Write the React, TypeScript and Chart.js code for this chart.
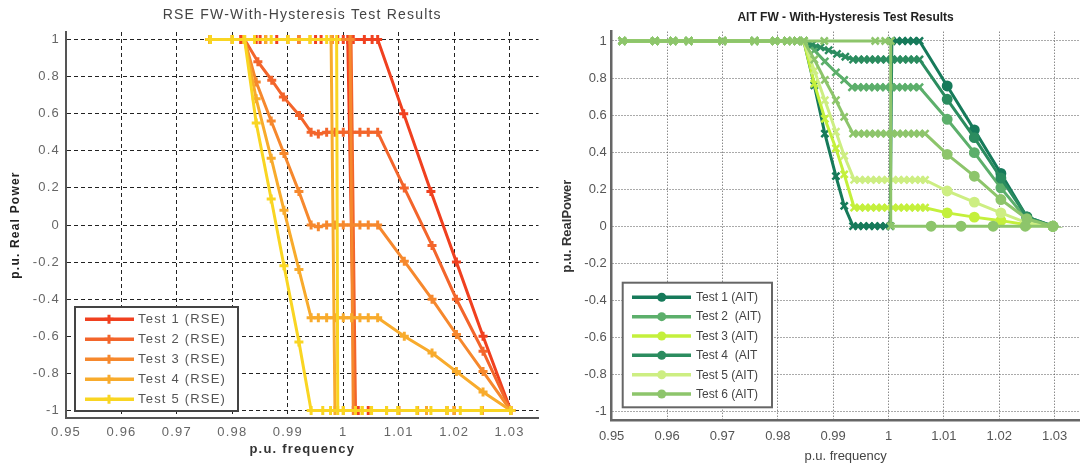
import React, { useEffect, useRef } from "react";
import { Chart, registerables } from "chart.js";

Chart.register(...registerables);

const FONT = "'Liberation Sans', Arial, Helvetica, sans-serif";

// ---------- shared axis ticks ----------
const xTickValues = [0.95, 0.96, 0.97, 0.98, 0.99, 1.0, 1.01, 1.02, 1.03];
const xTickLabels = ["0.95", "0.96", "0.97", "0.98", "0.99", "1", "1.01", "1.02", "1.03"];
const yTickValues = [-1, -0.8, -0.6, -0.4, -0.2, 0, 0.2, 0.4, 0.6, 0.8, 1];
const yTickLabels = ["-1", "-0.8", "-0.6", "-0.4", "-0.2", "0", "0.2", "0.4", "0.6", "0.8", "1"];

// ---------- RSE chart data ----------
const rseTitle = "RSE FW-With-Hysteresis Test Results";
const rseLabels = ["Test 1 (RSE)", "Test 2 (RSE)", "Test 3 (RSE)", "Test 4 (RSE)", "Test 5 (RSE)"];
const rseColors = ["#f0401f", "#f3652b", "#f6882d", "#f8ab2c", "#f9d522"];

const rseTest1Freq = [0.976, 0.9815, 0.9843, 0.988, 0.992, 0.996, 1.0, 1.0018, 1.0038, 1.0052, 1.0062, 1.0109, 1.0158, 1.0204, 1.0252, 1.0302, 1.025, 1.0187, 1.0134, 1.0078, 1.0045, 1.0027, 1.0021, 1.0008, 0.999, 0.995, 0.99, 0.985, 0.98, 0.976];
const rseTest1Power = [1, 1, 1, 1, 1, 1, 1, 1, 1, 1, 1, 0.6, 0.18, -0.2, -0.6, -1, -1, -1, -1, -1, -1, -1, -1, 1, 1, 1, 1, 1, 1, 1];

const rseTest2Freq = [0.976, 0.98, 0.9822, 0.9846, 0.9871, 0.9892, 0.9921, 0.9942, 0.9955, 0.997, 0.9985, 1.0, 1.0015, 1.003, 1.0045, 1.0062, 1.011, 1.016, 1.0204, 1.0252, 1.0302, 1.025, 1.02, 1.015, 1.01, 1.005, 1.0022, 1.0014, 0.998, 0.992, 0.986, 0.98, 0.976];
const rseTest2Power = [1, 1, 1, 0.88, 0.78, 0.69, 0.59, 0.5, 0.49, 0.5, 0.5, 0.5, 0.5, 0.5, 0.5, 0.5, 0.2, -0.11, -0.4, -0.68, -1, -1, -1, -1, -1, -1, -1, 1, 1, 1, 1, 1, 1];

const rseTest3Freq = [0.976, 0.98, 0.9822, 0.9843, 0.987, 0.9893, 0.992, 0.9942, 0.9955, 0.997, 0.9985, 1.0, 1.0015, 1.003, 1.0045, 1.0062, 1.011, 1.016, 1.0204, 1.0252, 1.0302, 1.025, 1.02, 1.015, 1.01, 1.005, 1.0018, 1.0012, 0.998, 0.992, 0.986, 0.98, 0.976];
const rseTest3Power = [1, 1, 1, 0.77, 0.56, 0.385, 0.18, 0, -0.01, 0, 0, 0, 0, 0, 0, 0, -0.195, -0.4, -0.59, -0.79, -1, -1, -1, -1, -1, -1, -1, 1, 1, 1, 1, 1, 1];

const rseTest4Freq = [0.976, 0.98, 0.9822, 0.9843, 0.987, 0.9893, 0.992, 0.9942, 0.9955, 0.997, 0.9985, 1.0, 1.0015, 1.003, 1.0045, 1.0062, 1.011, 1.016, 1.0204, 1.0252, 1.0302, 1.025, 1.02, 1.015, 1.01, 1.005, 1.0, 0.9985, 0.9978, 0.994, 0.99, 0.986, 0.982, 0.976];
const rseTest4Power = [1, 1, 1, 0.68, 0.36, 0.08, -0.24, -0.5, -0.5, -0.5, -0.5, -0.5, -0.5, -0.5, -0.5, -0.5, -0.6, -0.69, -0.79, -0.9, -1, -1, -1, -1, -1, -1, -1, -1, 1, 1, 1, 1, 1, 1];

const rseTest5Freq = [0.976, 0.98, 0.9822, 0.9843, 0.987, 0.9893, 0.992, 0.9942, 0.9963, 0.9977, 1.0, 1.0022, 1.0034, 1.0051, 1.0078, 1.0098, 1.0133, 1.0158, 1.0187, 1.0211, 1.0249, 1.0302, 1.0249, 1.0187, 1.0133, 1.0078, 1.0034, 0.999, 0.9988, 0.997, 0.994, 0.99, 0.987, 0.984, 0.98, 0.976];
const rseTest5Power = [1, 1, 1, 0.55, 0.14, -0.22, -0.63, -1, -1, -1, -1, -1, -1, -1, -1, -1, -1, -1, -1, -1, -1, -1, -1, -1, -1, -1, -1, -1, 1, 1, 1, 1, 1, 1, 1, 1];

const rseFreqs = [rseTest1Freq, rseTest2Freq, rseTest3Freq, rseTest4Freq, rseTest5Freq];
const rsePowers = [rseTest1Power, rseTest2Power, rseTest3Power, rseTest4Power, rseTest5Power];

// ---------- AIT chart data ----------
const aitTitle = "AIT FW - With-Hysteresis Test Results";
const aitLabels = ["Test 1 (AIT)", "Test 2  (AIT)", "Test 3 (AIT)", "Test 4  (AIT", "Test 5 (AIT)", "Test 6 (AIT)"];
const aitColors = ["#167a5a", "#5caf6b", "#c4f03c", "#2b8c5f", "#cdee82", "#8dc56b"];

const aitTest1Freq = [0.9519, 0.9578, 0.9611, 0.9639, 0.97, 0.9758, 0.9795, 0.9817, 0.9835, 0.9847, 0.9866, 0.9885, 0.9905, 0.992, 0.9936, 0.9945, 0.9955, 0.9965, 0.9975, 0.9985, 0.9995, 1.0003, 1.0006, 1.0015, 1.0025, 1.0035, 1.0045, 1.0056, 1.0106, 1.0155, 1.0203, 1.025, 1.0297];
const aitTest1Power = [1, 1, 1, 1, 1, 1, 1, 1, 1, 1, 0.76, 0.5, 0.27, 0.11, 0, 0, 0, 0, 0, 0, 0, 0, 1, 1, 1, 1, 1, 1, 0.757, 0.52, 0.285, 0.05, 0];

const aitTest2Freq = [0.9519, 0.9578, 0.9611, 0.9639, 0.97, 0.9758, 0.9795, 0.9817, 0.9835, 0.9847, 0.9866, 0.9885, 0.9905, 0.992, 0.9934, 0.9945, 0.9955, 0.9965, 0.9975, 0.9985, 0.9995, 1.0005, 1.0015, 1.0025, 1.0035, 1.0045, 1.0056, 1.0106, 1.0155, 1.0203, 1.025, 1.0297];
const aitTest2Power = [1, 1, 1, 1, 1, 1, 1, 1, 1, 1, 0.95, 0.89, 0.83, 0.79, 0.75, 0.75, 0.75, 0.75, 0.75, 0.75, 0.75, 0.75, 0.75, 0.75, 0.75, 0.75, 0.75, 0.577, 0.397, 0.207, 0.036, 0];

const aitTest3Freq = [0.9519, 0.9578, 0.9611, 0.9639, 0.97, 0.9758, 0.9795, 0.9817, 0.9835, 0.9847, 0.9866, 0.9885, 0.9905, 0.992, 0.9938, 0.9948, 0.9958, 0.9968, 0.9978, 0.9988, 0.9998, 1.0008, 1.0018, 1.0028, 1.0038, 1.0048, 1.0058, 1.0066, 1.0106, 1.0155, 1.0203, 1.025, 1.0297];
const aitTest3Power = [1, 1, 1, 1, 1, 1, 1, 1, 1, 1, 0.77, 0.58, 0.42, 0.28, 0.1, 0.1, 0.1, 0.1, 0.1, 0.1, 0.1, 0.1, 0.1, 0.1, 0.1, 0.1, 0.1, 0.1, 0.072, 0.049, 0.03, 0.008, 0];

const aitTest4Freq = [0.9519, 0.9578, 0.9611, 0.9639, 0.97, 0.9758, 0.9795, 0.9817, 0.9835, 0.9847, 0.9862, 0.9877, 0.9892, 0.9907, 0.9922, 0.9936, 0.9946, 0.9956, 0.9966, 0.9976, 0.9986, 0.9996, 1.0006, 1.0016, 1.0026, 1.0036, 1.0046, 1.0056, 1.0106, 1.0155, 1.0203, 1.025, 1.0297];
const aitTest4Power = [1, 1, 1, 1, 1, 1, 1, 1, 1, 1, 0.98, 0.965, 0.95, 0.93, 0.915, 0.9, 0.9, 0.9, 0.9, 0.9, 0.9, 0.9, 0.9, 0.9, 0.9, 0.9, 0.9, 0.9, 0.685, 0.478, 0.26, 0.05, 0];

const aitTest5Freq = [0.9519, 0.9578, 0.9611, 0.9639, 0.97, 0.9758, 0.9795, 0.9817, 0.9835, 0.9847, 0.9866, 0.9885, 0.9905, 0.992, 0.9938, 0.9948, 0.9958, 0.9968, 0.9978, 0.9988, 0.9998, 1.0008, 1.0018, 1.0028, 1.0038, 1.0048, 1.0058, 1.0066, 1.0106, 1.0155, 1.0203, 1.025, 1.0297];
const aitTest5Power = [1, 1, 1, 1, 1, 1, 1, 1, 1, 1, 0.84, 0.68, 0.51, 0.38, 0.25, 0.25, 0.25, 0.25, 0.25, 0.25, 0.25, 0.25, 0.25, 0.25, 0.25, 0.25, 0.25, 0.25, 0.19, 0.13, 0.072, 0.018, 0];

const aitTest6Freq = [0.9519, 0.9578, 0.9611, 0.9639, 0.97, 0.9758, 0.9795, 0.9817, 0.9835, 0.9847, 0.9866, 0.9885, 0.9905, 0.992, 0.9936, 0.9946, 0.9956, 0.9966, 0.9976, 0.9986, 0.9996, 1.0006, 1.0016, 1.0026, 1.0036, 1.0046, 1.0056, 1.0066, 1.0106, 1.0155, 1.0203, 1.025, 1.0297, 1.0247, 1.0189, 1.0131, 1.0077, 1.0004, 1.0004, 0.9994, 0.9976, 0.9884, 0.9835, 0.9817, 0.9795, 0.9758, 0.97, 0.9639, 0.9611, 0.9578, 0.9519];
const aitTest6Power = [1, 1, 1, 1, 1, 1, 1, 1, 1, 1, 0.9, 0.79, 0.68, 0.59, 0.5, 0.5, 0.5, 0.5, 0.5, 0.5, 0.5, 0.5, 0.5, 0.5, 0.5, 0.5, 0.5, 0.5, 0.388, 0.27, 0.144, 0.04, 0, 0, 0, 0, 0, 0, 1, 1, 1, 1, 1, 1, 1, 1, 1, 1, 1, 1, 1];

const aitFreqs = [aitTest1Freq, aitTest2Freq, aitTest3Freq, aitTest4Freq, aitTest5Freq, aitTest6Freq];
const aitPowers = [aitTest1Power, aitTest2Power, aitTest3Power, aitTest4Power, aitTest5Power, aitTest6Power];

// ---------- helpers ----------
type LegendCfg = {
  x: number; y: number; w: number; h: number;
  firstRow: number; rowGap: number;
  lineX0: number; lineX1: number; markerX: number; textX: number;
  font: string; textColor: string; borderColor: string; borderWidth: number;
  marker: "cross" | "circle";
};

function boxLegend(cfg: LegendCfg) {
  return {
    id: "boxLegend",
    afterDraw(chart: any) {
      const ctx = chart.ctx as CanvasRenderingContext2D;
      ctx.save();
      ctx.fillStyle = "#ffffff";
      ctx.fillRect(cfg.x, cfg.y, cfg.w, cfg.h);
      ctx.lineWidth = cfg.borderWidth;
      ctx.strokeStyle = cfg.borderColor;
      ctx.strokeRect(cfg.x, cfg.y, cfg.w, cfg.h);
      chart.data.datasets.forEach((ds: any, i: number) => {
        const y = cfg.firstRow + i * cfg.rowGap;
        const col = ds.borderColor as string;
        ctx.strokeStyle = col;
        ctx.lineWidth = 3.5;
        ctx.beginPath();
        ctx.moveTo(cfg.lineX0, y);
        ctx.lineTo(cfg.lineX1, y);
        ctx.stroke();
        if (cfg.marker === "circle") {
          ctx.fillStyle = col;
          ctx.beginPath();
          ctx.arc(cfg.markerX, y, 4.5, 0, Math.PI * 2);
          ctx.fill();
        } else {
          ctx.lineWidth = 3;
          ctx.beginPath();
          ctx.moveTo(cfg.markerX - 4.5, y);
          ctx.lineTo(cfg.markerX + 4.5, y);
          ctx.moveTo(cfg.markerX, y - 4.5);
          ctx.lineTo(cfg.markerX, y + 4.5);
          ctx.stroke();
        }
        ctx.fillStyle = cfg.textColor;
        ctx.font = cfg.font;
        ctx.textAlign = "left";
        ctx.textBaseline = "middle";
        ctx.fillText(ds.label, cfg.textX, y + 0.5);
      });
      ctx.restore();
    },
  };
}

const spacing = (px: string) => ({
  id: "letterSpacing",
  beforeUpdate(chart: any) { (chart.ctx as any).letterSpacing = px; },
  beforeDraw(chart: any) { (chart.ctx as any).letterSpacing = px; },
});

function axes(o: {
  xMin: number; xMax: number; yMin: number; yMax: number;
  xHeight: number; yWidth: number;
  gridColor: string; dash: number[]; borderColor: string; borderWidth: number;
  tickFont: any; tickColor: string; xPad: number; yPad: number;
  xTitle: string; xTitleFont: any; xTitleColor: string; xTitlePad: number;
  yTitle: string; yTitleFont: any; yTitleColor: string; yTitlePad: number;
}) {
  return {
    x: {
      type: "linear",
      min: o.xMin,
      max: o.xMax,
      afterBuildTicks: (s: any) => { s.ticks = xTickValues.map((v) => ({ value: v })); },
      afterFit: (s: any) => { s.height = o.xHeight; s.paddingLeft = 0; s.paddingRight = 0; },
      ticks: {
        autoSkip: false, maxRotation: 0, padding: o.xPad,
        color: o.tickColor, font: o.tickFont,
        callback: (_v: any, i: number) => xTickLabels[i],
      },
      grid: { color: o.gridColor, lineWidth: 1, drawTicks: false },
      border: { display: true, color: o.borderColor, width: o.borderWidth, dash: o.dash },
      title: { display: true, text: o.xTitle, font: o.xTitleFont, color: o.xTitleColor, padding: { top: 0, bottom: o.xTitlePad } },
    },
    y: {
      type: "linear",
      min: o.yMin,
      max: o.yMax,
      afterBuildTicks: (s: any) => { s.ticks = yTickValues.map((v) => ({ value: v })); },
      afterFit: (s: any) => { s.width = o.yWidth; s.paddingTop = 0; s.paddingBottom = 0; },
      ticks: {
        autoSkip: false, padding: o.yPad,
        color: o.tickColor, font: o.tickFont,
        callback: (_v: any, i: number) => yTickLabels[i],
      },
      grid: { color: o.gridColor, lineWidth: 1, drawTicks: false },
      border: { display: true, color: o.borderColor, width: o.borderWidth, dash: o.dash },
      title: { display: true, text: o.yTitle, font: o.yTitleFont, color: o.yTitleColor, padding: { top: o.yTitlePad, bottom: 0 } },
    },
  };
}

function rseConfig(): any {
  const n = rseLabels.length;
  return {
    type: "scatter",
    data: {
      datasets: rseLabels.map((label, i) => ({
        label,
        data: rseFreqs[i].map((x, k) => ({ x, y: rsePowers[i][k] })),
        showLine: true,
        borderColor: rseColors[i],
        backgroundColor: rseColors[i],
        borderWidth: 3,
        pointStyle: "cross",
        pointRadius: 4.5,
        pointBorderWidth: 3,
        pointBorderColor: rseColors[i],
        pointBackgroundColor: rseColors[i],
        order: n - 1 - i,
      })),
    },
    options: {
      responsive: false,
      animation: false,
      events: [],
      layout: { padding: 0 },
      plugins: {
        legend: { display: false },
        tooltip: { enabled: false },
        title: {
          display: true, text: rseTitle, fullSize: false,
          font: { family: FONT, size: 14, weight: "normal" }, color: "#444",
          padding: { top: 7, bottom: 8.2 },
        },
      },
      scales: axes({
        xMin: 0.95, xMax: 1.0352, yMin: -1.04, yMax: 1.04,
        xHeight: 48, yWidth: 66,
        gridColor: "#222", dash: [4, 3], borderColor: "#555", borderWidth: 2,
        tickFont: { family: FONT, size: 13 }, tickColor: "#666", xPad: 7, yPad: 6,
        xTitle: "p.u. frequency", xTitleFont: { family: FONT, size: 13, weight: "bold" }, xTitleColor: "#333", xTitlePad: 9,
        yTitle: "p.u. Real Power", yTitleFont: { family: FONT, size: 12, weight: "bold" }, yTitleColor: "#222", yTitlePad: 8,
      }),
    },
    plugins: [
      spacing("1.2px"),
      boxLegend({
        x: 75, y: 307, w: 163, h: 104, firstRow: 319.3, rowGap: 20,
        lineX0: 85, lineX1: 134, markerX: 109, textX: 138,
        font: `13px ${FONT}`, textColor: "#555", borderColor: "#444", borderWidth: 2, marker: "cross",
      }),
    ],
  };
}

function aitConfig(): any {
  const n = aitLabels.length;
  return {
    type: "scatter",
    data: {
      datasets: aitLabels.map((label, i) => ({
        label,
        data: aitFreqs[i].map((x, k) => ({ x, y: aitPowers[i][k] })),
        showLine: true,
        borderColor: aitColors[i],
        backgroundColor: aitColors[i],
        borderWidth: 3,
        pointStyle: (c: any) => (c.raw && c.raw.x < 1.0075 ? "crossRot" : "circle"),
        pointRadius: (c: any) => (c.raw && c.raw.x < 1.0075 ? 5 : 4.2),
        pointBorderWidth: 2.5,
        pointBorderColor: aitColors[i],
        pointBackgroundColor: aitColors[i],
        order: n - 1 - i,
      })),
    },
    options: {
      responsive: false,
      animation: false,
      events: [],
      layout: { padding: 0 },
      plugins: {
        legend: { display: false },
        tooltip: { enabled: false },
        title: {
          display: true, text: aitTitle, fullSize: false,
          font: { family: FONT, size: 12, weight: "bold" }, color: "#222",
          padding: { top: 10.3, bottom: 7 },
        },
      },
      scales: axes({
        xMin: 0.95, xMax: 1.0345, yMin: -1.05, yMax: 1.05,
        xHeight: 45.3, yWidth: 65.7,
        gridColor: "#555", dash: [1, 2], borderColor: "#666", borderWidth: 2.5,
        tickFont: { family: FONT, size: 13 }, tickColor: "#555", xPad: 8, yPad: 5,
        xTitle: "p.u. frequency", xTitleFont: { family: FONT, size: 13, weight: "normal" }, xTitleColor: "#444", xTitlePad: 1.5,
        yTitle: "p.u. RealPower", yTitleFont: { family: FONT, size: 13, weight: "bold" }, yTitleColor: "#333", yTitlePad: 14,
      }),
    },
    plugins: [
      boxLegend({
        x: 76.7, y: 282.7, w: 149.3, h: 124.6, firstRow: 297.3, rowGap: 19.35,
        lineX0: 86, lineX1: 145, markerX: 115.7, textX: 150,
        font: `12px ${FONT}`, textColor: "#444", borderColor: "#666", borderWidth: 2, marker: "circle",
      }),
    ],
  };
}

export default function App() {
  const leftRef = useRef<HTMLCanvasElement>(null);
  const rightRef = useRef<HTMLCanvasElement>(null);

  useEffect(() => {
    const c1 = new Chart(leftRef.current as HTMLCanvasElement, rseConfig());
    const c2 = new Chart(rightRef.current as HTMLCanvasElement, aitConfig());
    return () => {
      c1.destroy();
      c2.destroy();
    };
  }, []);

  return (
    <div style={{ position: "absolute", left: 0, top: 0, width: 1087, height: 466, background: "#ffffff", overflow: "hidden" }}>
      <canvas ref={leftRef} width={546} height={466} style={{ position: "absolute", left: 0, top: 0, width: 546, height: 466 }} />
      <canvas ref={rightRef} width={541} height={466} style={{ position: "absolute", left: 546, top: 0, width: 541, height: 466 }} />
    </div>
  );
}
